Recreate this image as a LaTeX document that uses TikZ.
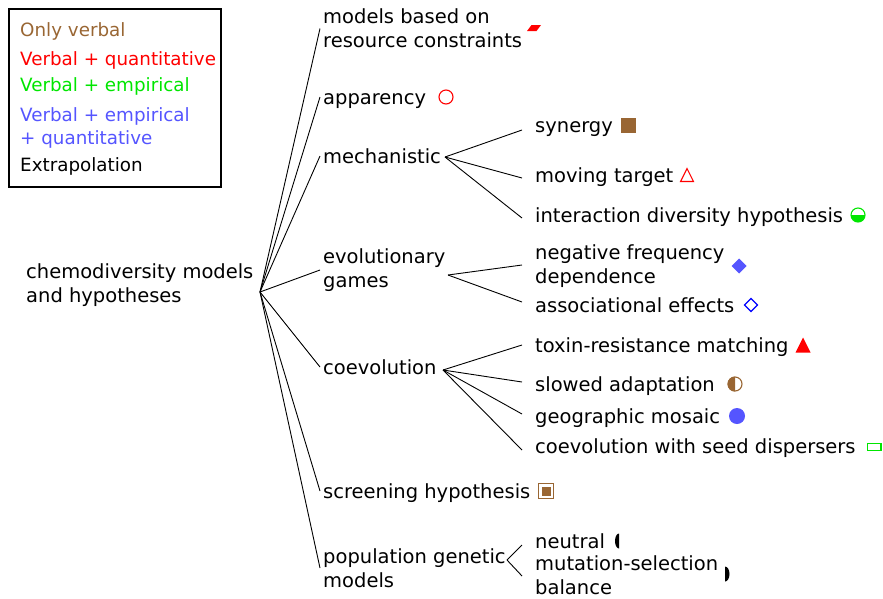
\documentclass[tikz,border=0pt]{standalone}
\usepackage{fontspec}
\setmainfont{DejaVu Sans}
\definecolor{cbrown}{RGB}{153,102,51}
\definecolor{cred}{RGB}{255,0,0}
\definecolor{cgreen}{RGB}{0,230,0}
\definecolor{cblue}{RGB}{85,85,255}
\definecolor{cdblue}{RGB}{0,0,255}
\begin{document}
\begin{tikzpicture}[x=1pt,y=-1pt,
  txt/.style={anchor=west,align=left,inner ysep=0pt,inner xsep=3pt,font=\fontsize{19.5}{24}\selectfont},
  one/.style={text height=14.5pt,text depth=0pt},
  sub/.style={txt,inner xsep=13pt},
  leg/.style={anchor=west,align=left,inner sep=0pt,font=\fontsize{18.3}{23}\selectfont},
  edge/.style={draw=black,line width=0.9pt},
  sym/.style={line width=1.1pt}]
\useasboundingbox (0,0) rectangle (883,598);
% legend
\draw[line width=1.4pt] (9,9) rectangle (221,187);
\node[leg,text=cbrown] (l1) at (20,31) {Only verbal};
\node[leg,text=cred] (l2) at (20,60) {Verbal + quantitative};
\node[leg,text=cgreen] (l3) at (20,86) {Verbal + empirical};
\node[leg,text=cblue] (l4) at (20,127.5) {Verbal + empirical\\+ quantitative};
\node[leg,text=black] (l5) at (20,166) {Extrapolation};
% root
\node[txt] (root) at (23,285) {chemodiversity models\\and hypotheses};
\coordinate (hub) at (260,292);
% first level
\node[txt] (mod) at (320,28.5) {models based on\\resource constraints};
\node[txt,one] (app) at (320,97) {apparency};
\node[txt,one] (mech) at (320,156) {mechanistic};
\node[txt] (evo) at (320,270) {evolutionary\\games};
\node[txt,one] (coe) at (320,367) {coevolution};
\node[txt,one] (scr) at (320,491) {screening hypothesis};
\node[txt] (pop) at (320,568) {population genetic\\models};
\foreach \n in {mod,app,mech,evo,coe,scr,pop} \draw[edge] (hub) -- (\n.west);
% second level
\node[sub,one] (syn) at (522,125) {synergy};
\node[sub,one] (mov) at (522,175) {moving target};
\node[sub,one] (idh) at (522,215) {interaction diversity hypothesis};
\node[sub] (nfd) at (522,266) {negative frequency\\dependence};
\node[sub,one] (ass) at (522,305) {associational effects};
\node[sub,one] (tox) at (522,345) {toxin-resistance matching};
\node[sub,one] (slo) at (522,384) {slowed adaptation};
\node[sub,one] (geo) at (522,416) {geographic mosaic};
\node[sub,one] (sds) at (522,446) {coevolution with seed dispersers};
\node[sub,one] (neu) at (522,541) {neutral};
\node[sub] (mut) at (522,575.5) {mutation-selection\\balance};
\coordinate (hmech) at (445,157);
\coordinate (hevo) at (448,275);
\coordinate (hcoe) at (443,370);
\coordinate (hpop) at (507,560);
\foreach \n/\y in {syn/130,mov/178,idh/218} \draw[edge] (hmech) -- (522,\y) coordinate (e\n);
\foreach \n/\y in {nfd/265,ass/302} \draw[edge] (hevo) -- (522,\y) coordinate (e\n);
\foreach \n/\y in {tox/345,slo/382,geo/414,sds/450} \draw[edge] (hcoe) -- (522,\y) coordinate (e\n);
\foreach \n/\y in {neu/545,mut/576} \draw[edge] (hpop) -- (522,\y) coordinate (e\n);
% symbols
\fill[cred] (527,31) -- (531.5,25) -- (541,25) -- (536.5,31) -- cycle;
\draw[cred,sym] (446,97) circle (7);
\fill[cbrown] (620.5,117.5) rectangle (635.5,132.5);
\draw[cred,sym] (680.5,181.5) -- (693.5,181.5) -- (687,168.5) -- cycle;
\fill[cgreen] (865,215) arc (0:180:7) -- cycle;
\draw[cgreen,sym] (858,215) circle (7);
\fill[cblue] (739,258.5) -- (746.5,266) -- (739,273.5) -- (731.5,266) -- cycle;
\draw[cdblue,sym] (751,298.5) -- (757.5,305) -- (751,311.5) -- (744.5,305) -- cycle;
\fill[cred] (795.5,352.5) -- (810.5,352.5) -- (803,337.5) -- cycle;
\fill[cbrown] (735,376.5) arc (270:90:7.5) -- cycle;
\draw[cbrown,sym] (735,384) circle (7);
\fill[cblue] (737,416) circle (8);
\draw[cgreen,sym] (867.5,443.5) rectangle (881,450.5);
\draw[cbrown,line width=1.2pt] (538.5,483.5) rectangle (553.5,498.5);
\fill[cbrown] (541.5,486.5) rectangle (550.5,495.5);
\fill[black] (619,533.5) arc (270:90:4 and 7.5) -- cycle;
\fill[black] (725,566.5) arc (270:450:4.5 and 7.5) -- cycle;
\end{tikzpicture}
\end{document}
